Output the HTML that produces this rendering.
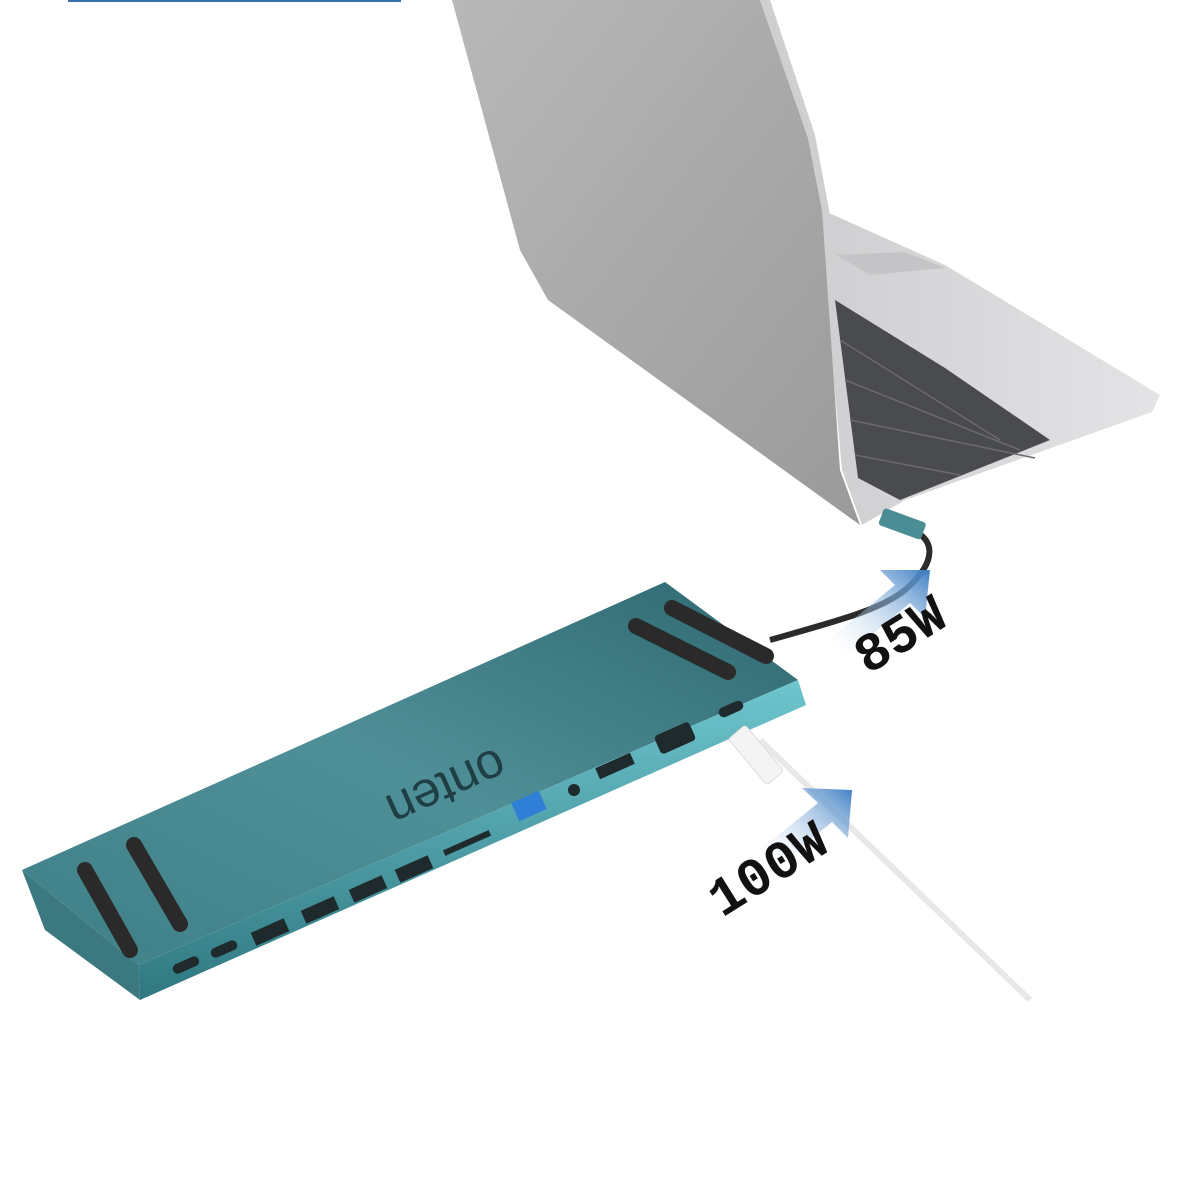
<!DOCTYPE html>
<html><head><meta charset="utf-8"><style>
html,body{margin:0;padding:0;background:#fff;width:1200px;height:1200px;overflow:hidden}
</style></head><body>
<svg width="1200" height="1200" viewBox="0 0 1200 1200" xmlns="http://www.w3.org/2000/svg">
<defs>
<linearGradient id="lid" x1="0" y1="0" x2="1" y2="1"><stop offset="0" stop-color="#b8b8b8"/><stop offset="1" stop-color="#9a9a9a"/></linearGradient>
<linearGradient id="base" x1="0" y1="0" x2="1" y2="0"><stop offset="0" stop-color="#cfcfd1"/><stop offset="1" stop-color="#e4e4e6"/></linearGradient>
<linearGradient id="hub" x1="0" y1="1" x2="1" y2="0"><stop offset="0" stop-color="#3f8088"/><stop offset="0.5" stop-color="#4f8f97"/><stop offset="1" stop-color="#2f6870"/></linearGradient>
<linearGradient id="front" x1="0" y1="0" x2="0" y2="1"><stop offset="0" stop-color="#6fc6cf"/><stop offset="1" stop-color="#2f7780"/></linearGradient>
<linearGradient id="arr" x1="0" y1="1" x2="1" y2="0"><stop offset="0" stop-color="#ffffff" stop-opacity="0"/><stop offset="1" stop-color="#3d7fc4"/></linearGradient>
</defs>
<rect x="68" y="0" width="333" height="2" fill="#3a6fb0"/>
<!-- laptop base -->
<polygon points="818,208 945,265 1160,395 1152,412 905,500 862,525 842,470" fill="url(#base)"/>
<polygon points="835,300 945,368 1050,440 900,500 858,478" fill="#4a4b4f"/>
<g stroke="#6a6b70" stroke-width="1.5">
<line x1="840" y1="340" x2="1000" y2="440"/>
<line x1="845" y1="380" x2="1020" y2="450"/>
<line x1="850" y1="420" x2="1035" y2="458"/>
<line x1="855" y1="455" x2="960" y2="475"/>
</g>
<polygon points="836,255 905,252 945,268 870,275" fill="#c4c4c6"/>
<!-- lid -->
<polygon points="452,0 760,0 808,138 822,210 840,470 860,525 548,300 520,250" fill="url(#lid)"/>
<polygon points="760,0 808,138 822,210 830,215 815,135 770,0" fill="#cfcfcf"/>
<!-- cable to laptop -->
<path d="M770,640 C840,620 880,610 905,590 C940,560 935,535 905,528" stroke="#2b2b2b" stroke-width="6" fill="none"/>
<rect x="880" y="514" width="45" height="18" rx="3" fill="#4a8d95" transform="rotate(20 900 523)"/>
<!-- hub -->
<polygon points="22,870 665,582 798,680 138,965" fill="url(#hub)"/>
<polygon points="138,965 798,680 806,705 140,1000" fill="url(#front)"/>
<polygon points="22,870 138,965 140,1000 45,930" fill="#3b7880"/>
<g stroke="#2a2a2a" stroke-width="16" stroke-linecap="round">
<line x1="85" y1="870" x2="130" y2="950"/>
<line x1="134" y1="845" x2="180" y2="924"/>
<line x1="636" y1="626" x2="728" y2="672"/>
<line x1="672" y1="608" x2="766" y2="656"/>
</g>
<!-- ports -->
<g fill="#1e2a2c">
<rect x="172" y="960" width="28" height="10" rx="5" transform="rotate(-24 186 965)"/>
<rect x="210" y="944" width="28" height="10" rx="5" transform="rotate(-24 224 949)"/>
<rect x="252" y="925" width="36" height="14" transform="rotate(-24 270 932)"/>
<rect x="302" y="903" width="36" height="14" transform="rotate(-24 320 910)"/>
<rect x="350" y="882" width="36" height="14" transform="rotate(-24 368 889)"/>
<rect x="396" y="862" width="36" height="14" transform="rotate(-24 414 869)"/>
<rect x="442" y="840" width="50" height="6" transform="rotate(-24 467 843)"/>
<rect x="596" y="760" width="38" height="12" transform="rotate(-24 615 766)"/>
<rect x="656" y="728" width="38" height="20" rx="4" transform="rotate(-24 675 738)"/>
<circle cx="574" cy="790" r="6"/>
<rect x="718" y="704" width="26" height="10" rx="5" transform="rotate(-24 731 709)"/>
</g>
<rect x="514" y="796" width="30" height="20" fill="#2f7fd6" transform="rotate(-24 529 806)"/>
<text x="497" y="747" font-family="Liberation Sans, sans-serif" font-size="50" fill="#1f3f44" transform="rotate(156 497 747)">onten</text>
<!-- white cable -->
<path d="M760,740 L1030,1000" stroke="#e8e8e8" stroke-width="6"/>
<rect x="745" y="725" width="22" height="60" rx="3" fill="#f4f4f4" stroke="#ddd" transform="rotate(-40 756 755)"/>
<!-- arrows -->
<polygon points="828,640 895,585 880,570 930,570 925,618 910,603 845,657" fill="url(#arr)"/>
<polygon points="760,850 818,803 802,788 852,790 848,838 832,822 775,868" fill="url(#arr)"/>
<text x="868" y="675" font-family="Liberation Mono, monospace" font-size="54" font-weight="bold" fill="#111" transform="rotate(-32 868 675)">85W</text>
<text x="722" y="918" font-family="Liberation Mono, monospace" font-size="54" font-weight="bold" fill="#111" transform="rotate(-32 722 918)">100W</text>
</svg>
</body></html>
